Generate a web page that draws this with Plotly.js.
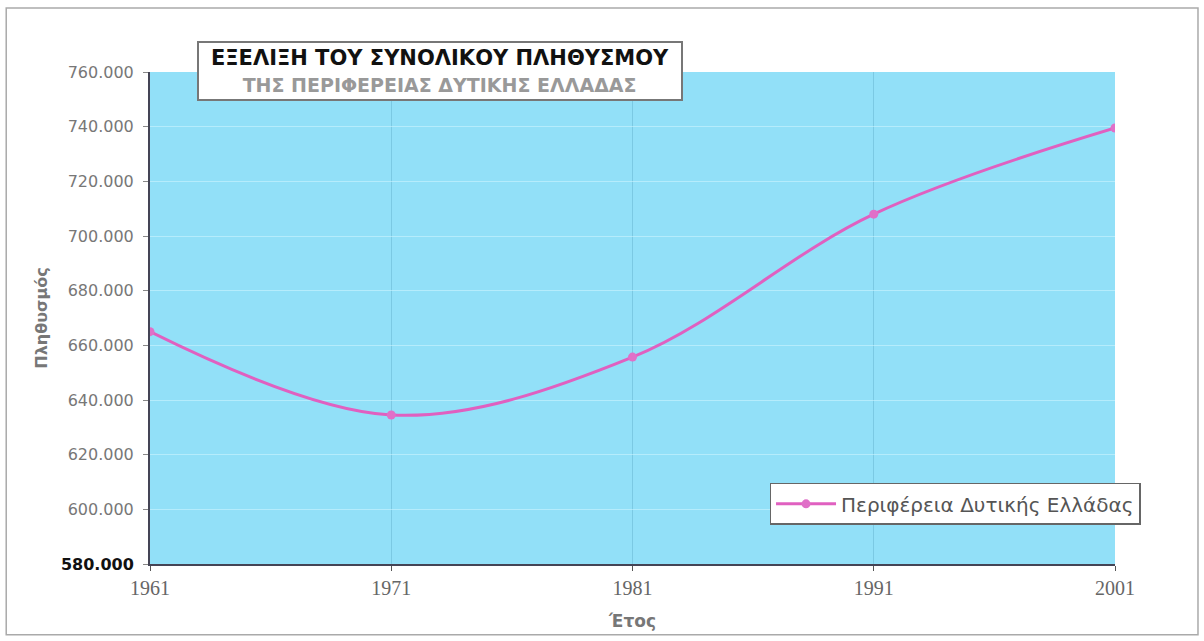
<!DOCTYPE html>
<html>
<head>
<meta charset="utf-8">
<script src="https://cdn.plot.ly/plotly-3.0.1.min.js"></script>
<style>html,body{margin:0;padding:0;background:#fff;}#chart{width:1204px;height:641px;}</style>
</head>
<body>
<div id="chart"></div>
<script>
// Data
var years = [1961, 1971, 1981, 1991, 2001];
var population = [665000, 634500, 655700, 708000, 739500];
var seriesName = "Περιφέρεια Δυτικής Ελλάδας";
var yTickVals = [580000, 600000, 620000, 640000, 660000, 680000, 700000, 720000, 740000, 760000];
var yTickText = ["<b style='color:#111'>580.000</b>", "600.000", "620.000", "640.000", "660.000", "680.000", "700.000", "720.000", "740.000", "760.000"];
var xTickVals = [1961, 1971, 1981, 1991, 2001];
var titleLine1 = "ΕΞΕΛΙΞΗ ΤΟΥ ΣΥΝΟΛΙΚΟΥ ΠΛΗΘΥΣΜΟΥ";
var titleLine2 = "ΤΗΣ ΠΕΡΙΦΕΡΕΙΑΣ ΔΥΤΙΚΗΣ ΕΛΛΑΔΑΣ";
var xTitle = "Έτος";
var yTitle = "Πληθυσμός";

var trace = {
  x: years, y: population, name: seriesName,
  type: 'scatter', mode: 'lines+markers',
  line: {color: '#e060c0', width: 3, shape: 'spline', smoothing: 1},
  marker: {color: '#e070c8', size: 9},
  showlegend: true
};

var layout = {
  width: 1204, height: 641,
  margin: {l: 150, r: 89, t: 72, b: 77},
  paper_bgcolor: '#ffffff',
  plot_bgcolor: '#92e0f8',
  separators: ',.',
  font: {family: 'DejaVu Sans, Verdana, sans-serif', color: '#666'},
  xaxis: {
    range: [1961, 2001], tickvals: xTickVals, ticks: 'outside', ticklen: 5,
    tickcolor: '#555', showline: true, linecolor: '#445', linewidth: 2,
    showgrid: true, gridcolor: 'rgba(70,150,180,0.3)', gridwidth: 1, zeroline: false,
    tickfont: {family: 'Liberation Serif, serif', size: 20, color: '#666'},
    title: {text: '<b>' + xTitle + '</b>', font: {size: 17, color: '#777'}, standoff: 17}
  },
  yaxis: {
    range: [580000, 760000], tickvals: yTickVals, ticktext: yTickText,
    ticks: 'outside', ticklen: 5, tickcolor: '#888', ticklabelstandoff: 6,
    showline: true, linecolor: '#445', linewidth: 2,
    showgrid: true, gridcolor: 'rgba(210,245,255,0.55)', gridwidth: 1, zeroline: false,
    tickfont: {size: 16, color: '#777'},
    title: {text: '<b>' + yTitle + '</b>', font: {size: 16, color: '#777'}, standoff: 9}
  },
  legend: {
    x: 0.642, y: 0.165, xanchor: 'left', yanchor: 'top',
    bgcolor: '#ffffff', bordercolor: '#666', borderwidth: 1.5,
    font: {size: 20, color: '#555'}, itemwidth: 60
  },
  annotations: [{
    xref: 'paper', yref: 'paper', x: 0.3005, y: 1.002, xanchor: 'center', yanchor: 'middle',
    text: '<b>' + titleLine1 + '</b><br><b style="color:#999;font-size:19px">' + titleLine2 + '</b>',
    showarrow: false, align: 'center',
    font: {size: 21, color: '#111', family: 'DejaVu Sans, Verdana, sans-serif'},
    bgcolor: '#ffffff', bordercolor: '#777', borderwidth: 2, borderpad: 3, width: 476
  }],
  shapes: [{
    type: 'rect', xref: 'paper', yref: 'paper', layer: 'below',
    x0: -0.149, x1: 1.086, y0: -0.144, y1: 1.130,
    line: {color: '#aaa', width: 1.5}, fillcolor: 'rgba(0,0,0,0)'
  }]
};

Plotly.newPlot('chart', [trace], layout, {displayModeBar: false, staticPlot: true});
</script>
</body>
</html>
